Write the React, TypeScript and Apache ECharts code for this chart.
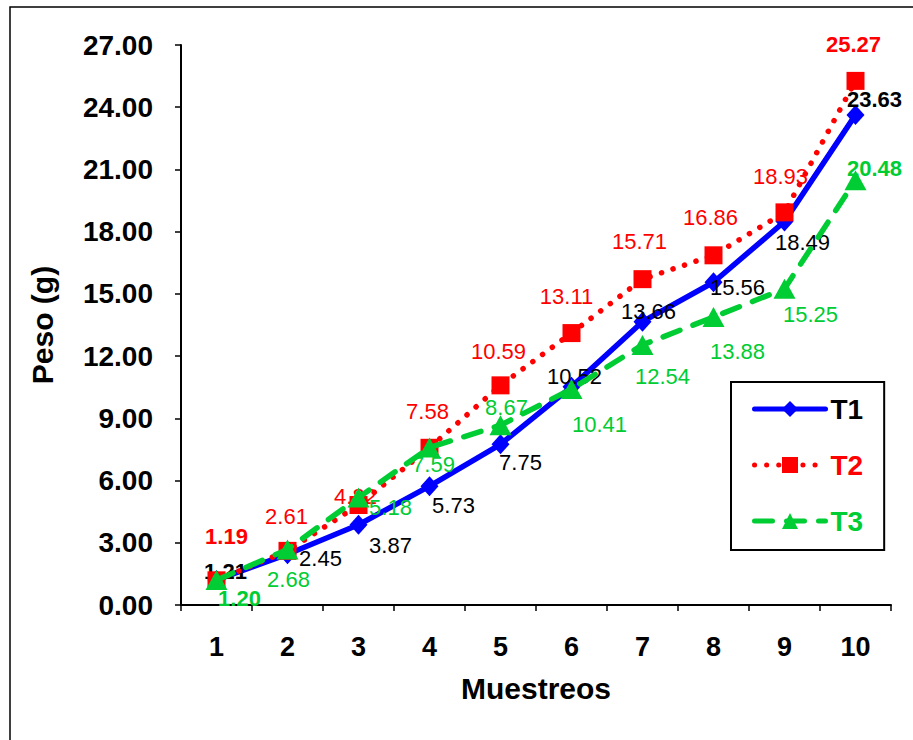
import React, { useEffect, useRef } from "react";
import * as echarts from "echarts";

// Sampling rounds (x axis)
const muestreos = ["1", "2", "3", "4", "5", "6", "7", "8", "9", "10"];

// Weight in grams per treatment
const t1 = [1.21, 2.45, 3.87, 5.73, 7.75, 10.52, 13.66, 15.56, 18.49, 23.63];
const t2 = [1.19, 2.61, 4.82, 7.58, 10.59, 13.11, 15.71, 16.86, 18.93, 25.27];
const t3 = [1.2, 2.68, 5.18, 7.59, 8.67, 10.41, 12.54, 13.88, 15.25, 20.48];

const seriesNames = ["T1", "T2", "T3"];

// Label placement relative to each point (layout only)
const t1LabelShift = [[9, -8], [33, 4], [32, 21], [24, 19], [20, 18], [3, -10], [6, -10], [24, 5], [18, 21], [19, -15]];
const t2LabelShift = [[10, -44], [-1, -34], [-3, -9], [-2, -36], [-2, -34], [-5, -37], [-3, -38], [-3, -38], [-4, -36], [-2, -36]];
const t3LabelShift = [[23, 18], [1, 30], [32, 10], [4, 17], [6, -18], [28, 35], [20, 32], [24, 34], [26, 26], [19, -12]];

const BLUE = "#0000FF";
const RED = "#FF0000";
const GREEN = "#00CC33";
const FONT = "'Liberation Sans', Arial, sans-serif";

function buildData(values: number[], shifts: number[][], color: string) {
  const last = values.length - 1;
  return values.map((v, i) => ({
    value: v,
    label: {
      offset: shifts[i],
      fontWeight: i === 0 || i === last ? "bold" : "normal",
      color,
    },
  }));
}

export default function App() {
  const ref = useRef<HTMLDivElement>(null);

  useEffect(() => {
    if (!ref.current) return;
    const chart = echarts.init(ref.current, undefined, { renderer: "svg" });

    const labelBase = {
      show: true,
      position: "inside",
      align: "center",
      verticalAlign: "middle",
      fontSize: 22,
      fontFamily: FONT,
      formatter: (p: any) => Number(p.value).toFixed(2),
    };

    chart.setOption({
      animation: false,
      backgroundColor: "#ffffff",
      graphic: [
        {
          type: "rect",
          shape: { x: 10, y: 7, width: 1000, height: 1000 },
          style: { fill: "none", stroke: "#000", lineWidth: 1.5 },
          silent: true,
        },
      ],
      grid: { left: 181, right: 22, top: 45, bottom: 135 },
      legend: {
        orient: "vertical",
        left: 731,
        top: 382,
        padding: [13, 21, 15, 21],
        itemWidth: 71,
        itemHeight: 20,
        itemGap: 28,
        borderColor: "#000",
        borderWidth: 2,
        lineStyle: { width: 5, cap: "round" },
        textStyle: { fontSize: 28, fontWeight: "bold", fontFamily: FONT },
        data: [
          { name: seriesNames[0], textStyle: { color: "#000" } },
          { name: seriesNames[1], textStyle: { color: RED } },
          { name: seriesNames[2], textStyle: { color: GREEN } },
        ],
      },
      xAxis: {
        type: "category",
        data: muestreos,
        boundaryGap: true,
        name: "Muestreos",
        nameLocation: "middle",
        nameGap: 68,
        nameTextStyle: { fontSize: 30, fontWeight: "bold", color: "#000", fontFamily: FONT },
        axisLine: { lineStyle: { color: "#000", width: 2 } },
        axisTick: { show: true, alignWithLabel: false, length: 6, lineStyle: { color: "#000", width: 1.5 } },
        axisLabel: { margin: 28, fontSize: 27, fontWeight: "bold", color: "#000", fontFamily: FONT },
        splitLine: { show: false },
      },
      yAxis: {
        type: "value",
        min: 0,
        max: 27,
        interval: 3,
        name: "Peso (g)",
        nameLocation: "middle",
        nameGap: 124,
        nameTextStyle: { fontSize: 30, fontWeight: "bold", color: "#000", fontFamily: FONT },
        axisLine: { show: true, lineStyle: { color: "#000", width: 2 } },
        axisTick: { show: true, length: 6, lineStyle: { color: "#000", width: 1.5 } },
        axisLabel: {
          margin: 28,
          fontSize: 28,
          fontWeight: "bold",
          color: "#000",
          fontFamily: FONT,
          formatter: (v: number) => v.toFixed(2),
        },
        splitLine: { show: false },
      },
      series: [
        {
          name: seriesNames[0],
          type: "line",
          data: buildData(t1, t1LabelShift, "#000"),
          symbol: "diamond",
          symbolSize: [18, 20],
          itemStyle: { color: BLUE },
          lineStyle: { color: BLUE, width: 5.5 },
          label: { ...labelBase, color: "#000" },
          z: 2,
        },
        {
          name: seriesNames[1],
          type: "line",
          data: buildData(t2, t2LabelShift, RED),
          symbol: "rect",
          symbolSize: 18,
          itemStyle: { color: RED },
          lineStyle: { color: RED, width: 5.5, type: [0.1, 12], cap: "round" },
          label: { ...labelBase, color: RED },
          z: 3,
        },
        {
          name: seriesNames[2],
          type: "line",
          data: buildData(t3, t3LabelShift, GREEN),
          symbol: "triangle",
          symbolSize: [22, 20],
          itemStyle: { color: GREEN },
          lineStyle: { color: GREEN, width: 5.5, type: [18, 14], cap: "round" },
          label: { ...labelBase, color: GREEN },
          z: 4,
        },
      ],
    });

    return () => chart.dispose();
  }, []);

  return (
    <div
      ref={ref}
      style={{ position: "absolute", left: 0, top: 0, width: 913, height: 740 }}
    />
  );
}
